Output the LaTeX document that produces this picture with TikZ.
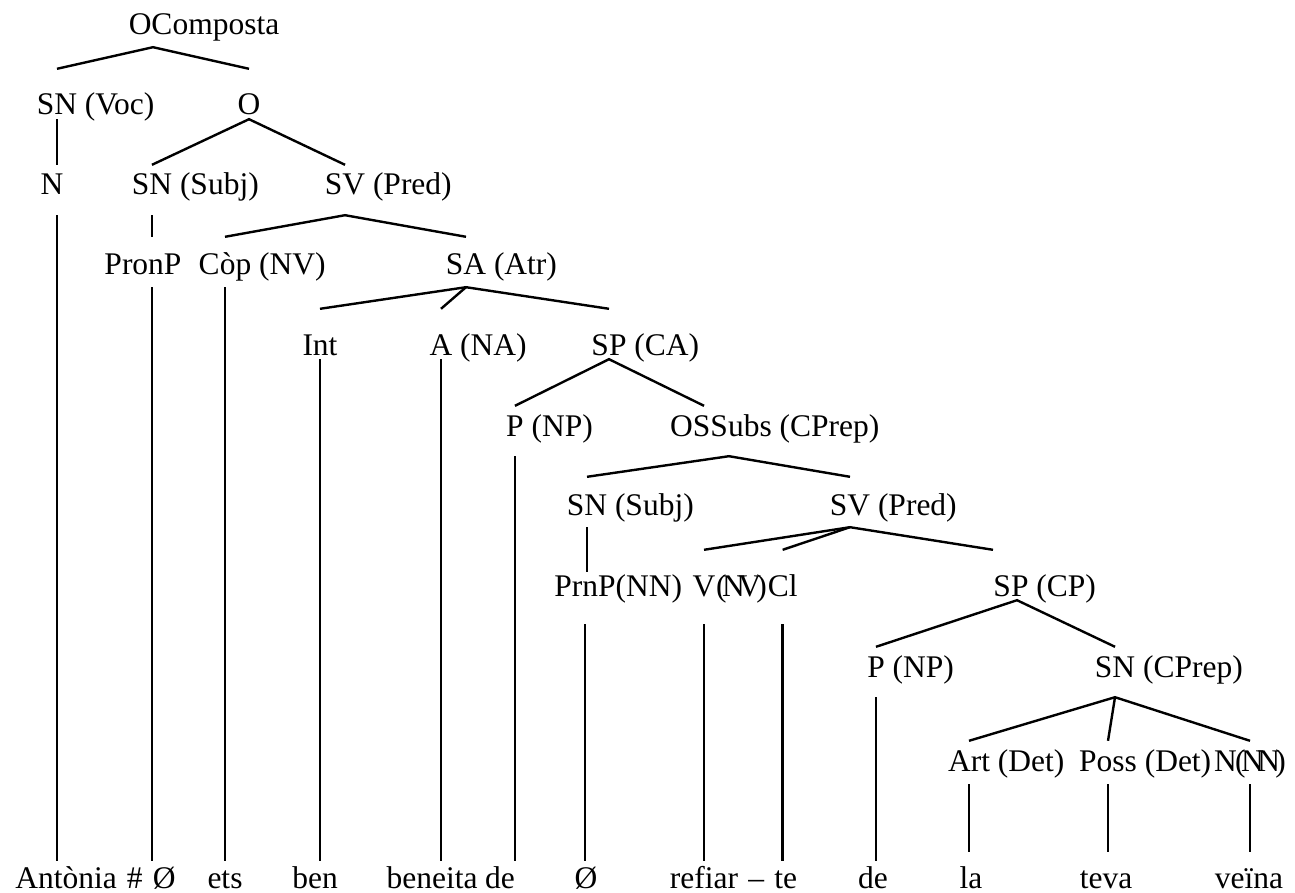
\documentclass[tikz,border=0pt]{standalone}
\usepackage{fontspec}
\setmainfont{Liberation Serif}
\usepackage{tikz}
\usetikzlibrary{positioning}

\newcommand{\treefont}{\fontsize{15.75pt}{18pt}\selectfont}

\tikzset{
  cat/.style={anchor=base},
  rootn/.style={cat, text depth=5.5pt},
  lvla/.style={cat, text height=22.5pt, text depth=1.5pt},
  lvlb/.style={cat, text height=14.5pt, text depth=9.5pt},
  lvlc/.style={cat, text height=18.5pt, text depth=5.5pt},
  lvlv/.style={cat, text height=22.5pt, text depth=13.5pt},
  lvlp/.style={cat, text height=11.5pt, text depth=13.5pt},
  lvld/.style={cat, text height=14.5pt, text depth=6pt},
  word/.style={cat, text height=13pt},
  wordd/.style={cat, text height=17.5pt},
}

\begin{document}
\begin{tikzpicture}[x=0.5pt, y=-0.5pt, line width=1.2pt,
  every node/.style={inner sep=0pt, font=\treefont}]

  \useasboundingbox (0,0) rectangle (1295,893);

  % root
  \node[rootn] (ocomp) at (204,35) {OComposta};

  % level 1
  \node[lvla] (svoc) at (57,115) {SN\rlap{ (Voc)}};
  \node[lvla] (o) at (249,115) {O};

  % level 2
  \node[lvlb] (n1) at (52,195) {N};
  \node[lvlb] (ssubj) at (152,195) {SN\rlap{ (Subj)}};
  \node[lvlb] (svpred) at (345,195) {SV\rlap{ (Pred)}};

  % level 3
  \node[lvlc] (pronp) at (143,275) {PronP};
  \node[lvlc] (cop) at (225,275) {Còp\rlap{ (NV)}};
  \node[lvlc] (sa) at (466,275) {SA\rlap{ (Atr)}};

  % level 4
  \node[lvla] (int) at (320,355) {Int};
  \node[lvla] (ana) at (441,355) {A\rlap{ (NA)}};
  \node[lvla] (spca) at (609,355) {SP\rlap{ (CA)}};

  % level 5
  \node[lvlb] (pnp1) at (515,436) {P\rlap{ (NP)}};
  \node[lvlb] (ossubs) at (721,436) {OSSubs\rlap{ (CPrep)}};

  % level 6
  \node[lvlc] (ssubj2) at (587,515) {SN\rlap{ (Subj)}};
  \node[lvlc] (svpred2) at (850,515) {SV\rlap{ (Pred)}};

  % level 7
  \node[lvlp] (prnp) at (585,596) {PrnP\rlap{(NN)}};
  \node[lvlv] (v) at (704,596) {V};
  \node[lvlv, base right=0pt of v] (nv) {\kern-.05em(\kern-.15em N\kern-.2em V\kern-.15em)\kern-.05em};
  \node[lvlv, base right=0pt of nv] (cl) {Cl};
  \node[lvla] (spcp) at (1011,596) {SP\rlap{ (CP)}};

  % level 8
  \node[lvlb] (pnp2) at (876,677) {P\rlap{ (NP)}};
  \node[lvlb] (sncprep) at (1115,677) {SN\rlap{ (CPrep)}};

  % level 9
  \node[lvld] (art) at (969,771) {Art\rlap{ (Det)}};
  \node[lvld] (poss) at (1108,771) {Poss\rlap{ (Det)}};
  \node[lvld] (nnn) at (1250,771) {N\kern-.05em(\kern-.15em N\kern-.2em N\kern-.15em)};

  % words
  \node[word] (anto) at (66,888) {Antònia};
  \node[word, base right=3.9pt of anto] (hash) {\#};
  \node[word, base right=3.9pt of hash] (zero1) {Ø};
  \node[word] (ets) at (225,888) {ets};
  \node[word] (ben) at (315,888) {ben};
  \node[word] (beneita) at (432,888) {beneita};
  \node[word] (de1) at (500,888) {de};
  \node[word] (zero2) at (586,888) {Ø};
  \node[word] (refiar) at (704,888) {refiar};
  \node[word, base right=3.9pt of refiar] (dash) {–};
  \node[word, base right=3.9pt of dash] (te) {te};
  \node[word] (de2) at (873,888) {de};
  \node[wordd] (la) at (971,888) {la};
  \node[wordd] (teva) at (1106,888) {teva};
  \node[wordd] (veina) at (1249,888) {veïna};

  % branches
  \draw (svoc.north) -- ([xshift=-25.5pt]ocomp.south) -- (o.north);
  \draw (svoc.south) -- (svoc.south |- n1.north);
  \draw (svoc.south |- n1.south) -- (svoc.south |- anto.north);
  \draw (ssubj.north) -- (o.south) -- (svpred.north);
  \draw (ssubj.south) -- (ssubj.south |- pronp.north);
  \draw (ssubj.south |- pronp.south) -- (ssubj.south |- zero1.north);
  \draw (cop.north) -- (svpred.south) -- (sa.north);
  \draw (cop.south) -- (cop.south |- ets.north);
  \draw (int.north) -- (sa.south) -- (spca.north);
  \draw (sa.south) -- (ana.north);
  \draw (int.south) -- (int.south |- ben.north);
  \draw (ana.south) -- (ana.south |- beneita.north);
  \draw (pnp1.north) -- (spca.south) -- ([xshift=-8.5pt]ossubs.north);
  \draw (pnp1.south) -- (pnp1.south |- de1.north);
  \draw (ssubj2.north) -- ([xshift=4pt]ossubs.south) -- (svpred2.north);
  \draw (ssubj2.south) -- (ssubj2.south |- prnp.north);
  \draw (prnp.south) -- (prnp.south |- zero2.north);
  \draw (v.north) -- (svpred2.south) -- ([xshift=-9pt]spcp.north);
  \draw (svpred2.south) -- (cl.north);
  \draw (v.south) -- (v.south |- refiar.north);
  \draw (cl.south) -- (cl.south |- te.north);
  \draw (pnp2.north) -- ([xshift=3pt]spcp.south) -- (sncprep.north);
  \draw (pnp2.south) -- (pnp2.south |- de2.north);
  \draw (art.north) -- (sncprep.south) -- (nnn.north);
  \draw (sncprep.south) -- (poss.north);
  \draw (art.south) -- (art.south |- la.north);
  \draw (poss.south) -- (poss.south |- teva.north);
  \draw (nnn.south) -- (nnn.south |- veina.north);

\end{tikzpicture}
\end{document}
